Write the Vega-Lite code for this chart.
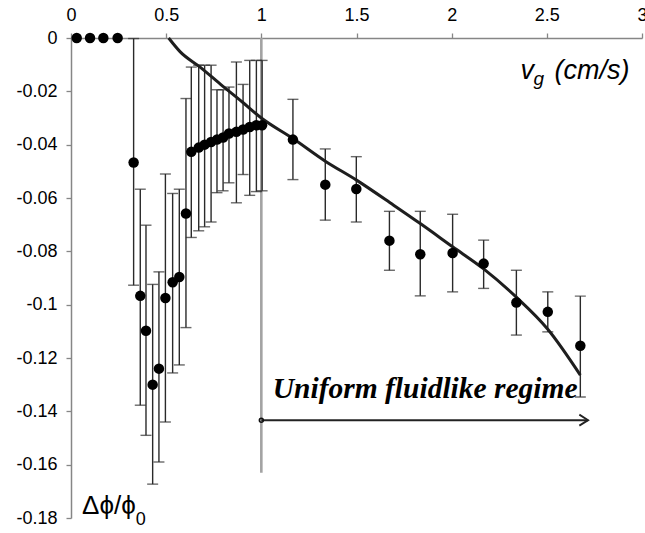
{
  "$schema": "https://vega.github.io/schema/vega-lite/v6.json",
  "width": 571,
  "height": 480,
  "autosize": "none",
  "padding": {"left": 71, "top": 38, "right": 3, "bottom": 15},
  "background": "white",
  "config": {"view": {"stroke": null}},
  "datasets": {
    "pts": [
      {"x": 0.03, "y": 0}, {"x": 0.10, "y": 0}, {"x": 0.17, "y": 0}, {"x": 0.245, "y": 0},
      {"x": 0.329, "y": -0.0467, "lo": -0.0927, "hi": -0.0002},
      {"x": 0.364, "y": -0.0967, "lo": -0.1377, "hi": -0.0567},
      {"x": 0.394, "y": -0.1098, "lo": -0.149, "hi": -0.0702},
      {"x": 0.429, "y": -0.130, "lo": -0.1673, "hi": -0.0924},
      {"x": 0.462, "y": -0.124, "lo": -0.159, "hi": -0.0877},
      {"x": 0.496, "y": -0.0975, "lo": -0.144, "hi": -0.051},
      {"x": 0.534, "y": -0.0916, "lo": -0.1256, "hi": -0.0583},
      {"x": 0.569, "y": -0.0896, "lo": -0.1226, "hi": -0.0567},
      {"x": 0.604, "y": -0.0658, "lo": -0.1086, "hi": -0.0227},
      {"x": 0.632, "y": -0.0427, "lo": -0.0748, "hi": -0.0109},
      {"x": 0.671, "y": -0.0411, "lo": -0.0723, "hi": -0.0102},
      {"x": 0.702, "y": -0.0400, "lo": -0.0708, "hi": -0.0102},
      {"x": 0.736, "y": -0.0390, "lo": -0.069, "hi": -0.0102},
      {"x": 0.767, "y": -0.0381, "lo": -0.058, "hi": -0.0194},
      {"x": 0.799, "y": -0.0373, "lo": -0.0573, "hi": -0.0194},
      {"x": 0.830, "y": -0.0358, "lo": -0.0543, "hi": -0.0184},
      {"x": 0.869, "y": -0.0352, "lo": -0.0618, "hi": -0.009},
      {"x": 0.904, "y": -0.0343, "lo": -0.0512, "hi": -0.0174},
      {"x": 0.939, "y": -0.0334, "lo": -0.059, "hi": -0.0084},
      {"x": 0.974, "y": -0.0327, "lo": -0.0576, "hi": -0.0084},
      {"x": 1.004, "y": -0.0327, "lo": -0.0573, "hi": -0.0084},
      {"x": 1.166, "y": -0.0381, "lo": -0.0531, "hi": -0.0230},
      {"x": 1.336, "y": -0.0550, "lo": -0.0683, "hi": -0.0416},
      {"x": 1.499, "y": -0.0566, "lo": -0.0690, "hi": -0.0445},
      {"x": 1.673, "y": -0.0760, "lo": -0.0871, "hi": -0.0650},
      {"x": 1.835, "y": -0.0811, "lo": -0.0967, "hi": -0.0650},
      {"x": 2.005, "y": -0.0806, "lo": -0.0952, "hi": -0.0661},
      {"x": 2.168, "y": -0.0846, "lo": -0.0939, "hi": -0.0758},
      {"x": 2.340, "y": -0.0992, "lo": -0.1114, "hi": -0.0871},
      {"x": 2.505, "y": -0.1027, "lo": -0.1102, "hi": -0.0952},
      {"x": 2.676, "y": -0.1154, "lo": -0.1346, "hi": -0.0968}
    ],
    "fit": [
      {"x": 0.513, "y": 0}, {"x": 0.574, "y": -0.0052}, {"x": 0.68, "y": -0.0110},
      {"x": 0.786, "y": -0.0174}, {"x": 0.90, "y": -0.0240}, {"x": 1.0, "y": -0.0300},
      {"x": 1.166, "y": -0.0377}, {"x": 1.336, "y": -0.0462}, {"x": 1.5, "y": -0.0533},
      {"x": 1.695, "y": -0.0627}, {"x": 1.835, "y": -0.0696}, {"x": 2.005, "y": -0.0783},
      {"x": 2.168, "y": -0.0866}, {"x": 2.34, "y": -0.0972}, {"x": 2.505, "y": -0.1092},
      {"x": 2.676, "y": -0.1264}
    ],
    "vline": [{"x": 1, "y": 0, "y2": -0.163}],
    "arrow": [{"x": 1.0, "x2": 2.717, "y": -0.1433}],
    "head": [{"x": 2.717, "y": -0.1433}],
    "tail": [{"x": 1.0, "y": -0.1433}]
  },
  "encoding": {
    "x": {"type": "quantitative"},
    "y": {"type": "quantitative"}
  },
  "layer": [
    {
      "data": {"name": "vline"},
      "mark": {"type": "rule", "color": "#a3a3a3", "strokeWidth": 2.6},
      "encoding": {
        "x": {"field": "x", "type": "quantitative",
          "scale": {"domain": [0, 3], "nice": false, "zero": false},
          "axis": {"orient": "top", "values": [0, 0.5, 1, 1.5, 2, 2.5, 3], "format": "~g", "title": null, "grid": false,
            "domainColor": "#868686", "domainWidth": 1.5, "tickColor": "#868686", "tickSize": 5, "tickWidth": 1.3,
            "labelFont": "Liberation Sans", "labelFontSize": 18, "labelColor": "#000", "labelPadding": 9, "labelFlush": false}},
        "y": {"field": "y", "type": "quantitative",
          "scale": {"domain": [-0.18, 0], "nice": false, "zero": false},
          "axis": {"orient": "left", "values": [0, -0.02, -0.04, -0.06, -0.08, -0.1, -0.12, -0.14, -0.16, -0.18],
            "labelExpr": "replace(format(datum.value, '~g'), '\u2212', '-')", "title": null, "grid": false,
            "domainColor": "#868686", "domainWidth": 1.5, "tickColor": "#868686", "tickSize": 5, "tickWidth": 1.3,
            "labelFont": "Liberation Sans", "labelFontSize": 18, "labelColor": "#000", "labelPadding": 9, "labelFlush": false}},
        "y2": {"field": "y2"}
      }
    },
    {
      "data": {"name": "pts"},
      "transform": [{"filter": "isValid(datum.lo)"}],
      "mark": {"type": "errorbar", "ticks": {"size": 11, "thickness": 1.4, "color": "#2a2a2a"}, "rule": {"strokeWidth": 1.4, "color": "#2a2a2a"}},
      "encoding": {
        "x": {"field": "x", "type": "quantitative"},
        "y": {"field": "lo", "type": "quantitative"},
        "y2": {"field": "hi"}
      }
    },
    {
      "data": {"name": "fit"},
      "mark": {"type": "line", "color": "#1e1e1e", "strokeWidth": 3, "interpolate": "monotone"},
      "encoding": {
        "x": {"field": "x", "type": "quantitative"},
        "y": {"field": "y", "type": "quantitative"}
      }
    },
    {
      "data": {"name": "pts"},
      "mark": {"type": "point", "filled": true, "shape": "circle", "size": 110, "color": "#000", "opacity": 1},
      "encoding": {
        "x": {"field": "x", "type": "quantitative"},
        "y": {"field": "y", "type": "quantitative"}
      }
    },
    {
      "data": {"name": "arrow"},
      "mark": {"type": "rule", "color": "#222", "strokeWidth": 2},
      "encoding": {
        "x": {"field": "x", "type": "quantitative"},
        "x2": {"field": "x2"},
        "y": {"field": "y", "type": "quantitative"}
      }
    },
    {
      "data": {"name": "head"},
      "mark": {"type": "point", "shape": "M -1.6 -1 L 0 0 L -1.6 1", "size": 121, "filled": false, "stroke": "#222", "strokeWidth": 1.8, "opacity": 1},
      "encoding": {
        "x": {"field": "x", "type": "quantitative"},
        "y": {"field": "y", "type": "quantitative"}
      }
    },
    {
      "data": {"name": "tail"},
      "mark": {"type": "point", "shape": "circle", "size": 16, "filled": false, "stroke": "#111", "strokeWidth": 1.5, "opacity": 1},
      "encoding": {
        "x": {"field": "x", "type": "quantitative"},
        "y": {"field": "y", "type": "quantitative"}
      }
    },
    {
      "data": {"values": [{"x": 1.06, "y": -0.1349, "t": "Uniform fluidlike regime"}]},
      "mark": {"type": "text", "font": "Liberation Serif", "fontStyle": "italic", "fontWeight": "bold", "fontSize": 29.5, "align": "left", "baseline": "alphabetic", "color": "#000"},
      "encoding": {
        "x": {"field": "x", "type": "quantitative"},
        "y": {"field": "y", "type": "quantitative"},
        "text": {"field": "t"}
      }
    },
    {
      "data": {"values": [
        {"x": 2.361, "y": -0.0152, "t": "v"},
        {"x": 2.54, "y": -0.0152, "t": "(cm/s)"}
      ]},
      "mark": {"type": "text", "font": "Liberation Sans", "fontStyle": "italic", "fontSize": 27, "align": "left", "baseline": "alphabetic", "color": "#000"},
      "encoding": {
        "x": {"field": "x", "type": "quantitative"},
        "y": {"field": "y", "type": "quantitative"},
        "text": {"field": "t"}
      }
    },
    {
      "data": {"values": [{"x": 2.43, "y": -0.0178, "t": "g"}]},
      "mark": {"type": "text", "font": "Liberation Sans", "fontStyle": "italic", "fontSize": 19, "align": "left", "baseline": "alphabetic", "color": "#000"},
      "encoding": {
        "x": {"field": "x", "type": "quantitative"},
        "y": {"field": "y", "type": "quantitative"},
        "text": {"field": "t"}
      }
    },
    {
      "data": {"values": [{"x": 0.058, "y": -0.1785, "t": "Δϕ/ϕ"}]},
      "mark": {"type": "text", "font": "Liberation Sans", "fontSize": 26, "align": "left", "baseline": "alphabetic", "color": "#000"},
      "encoding": {
        "x": {"field": "x", "type": "quantitative"},
        "y": {"field": "y", "type": "quantitative"},
        "text": {"field": "t"}
      }
    },
    {
      "data": {"values": [{"x": 0.34, "y": -0.1827, "t": "0"}]},
      "mark": {"type": "text", "font": "Liberation Sans", "fontSize": 18, "align": "left", "baseline": "alphabetic", "color": "#000"},
      "encoding": {
        "x": {"field": "x", "type": "quantitative"},
        "y": {"field": "y", "type": "quantitative"},
        "text": {"field": "t"}
      }
    }
  ]
}
